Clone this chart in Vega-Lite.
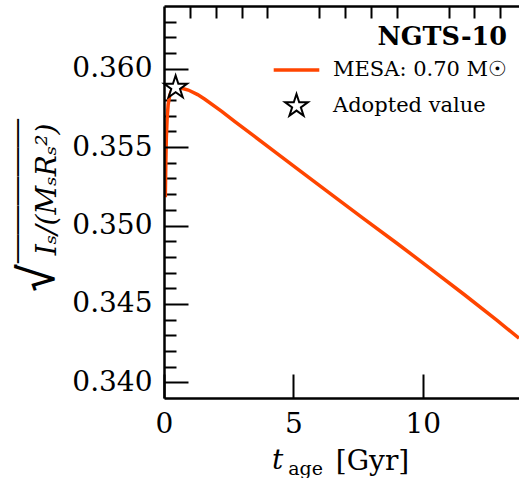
{
  "$schema": "https://vega.github.io/schema/vega-lite/v6.json",
  "width": 355,
  "height": 392,
  "autosize": {"type": "none"},
  "padding": {"left": 164, "top": 6, "right": 0, "bottom": 80},
  "background": "white",
  "config": {
    "view": {"stroke": null},
    "font": "DejaVu Serif",
    "axis": {"grid": false, "labelFont": "DejaVu Serif", "titleFont": "DejaVu Serif", "labelColor": "black", "titleColor": "black", "tickColor": "black", "domainColor": "black", "titleFontWeight": "normal"}
  },
  "datasets": {
    "mesa": [
      {"t": 0.05, "v": 0.3518, "series": "MESA: 0.70 M☉"},
      {"t": 0.07, "v": 0.3540, "series": "MESA: 0.70 M☉"},
      {"t": 0.09, "v": 0.3556, "series": "MESA: 0.70 M☉"},
      {"t": 0.12, "v": 0.3568, "series": "MESA: 0.70 M☉"},
      {"t": 0.16, "v": 0.3577, "series": "MESA: 0.70 M☉"},
      {"t": 0.22, "v": 0.3583, "series": "MESA: 0.70 M☉"},
      {"t": 0.30, "v": 0.35865, "series": "MESA: 0.70 M☉"},
      {"t": 0.40, "v": 0.3588, "series": "MESA: 0.70 M☉"},
      {"t": 0.50, "v": 0.35882, "series": "MESA: 0.70 M☉"},
      {"t": 0.65, "v": 0.35877, "series": "MESA: 0.70 M☉"},
      {"t": 0.94, "v": 0.35864, "series": "MESA: 0.70 M☉"},
      {"t": 1.30, "v": 0.35835, "series": "MESA: 0.70 M☉"},
      {"t": 1.58, "v": 0.35805, "series": "MESA: 0.70 M☉"},
      {"t": 2.23, "v": 0.35728, "series": "MESA: 0.70 M☉"},
      {"t": 2.74, "v": 0.35662, "series": "MESA: 0.70 M☉"},
      {"t": 3.50, "v": 0.35568, "series": "MESA: 0.70 M☉"},
      {"t": 4.30, "v": 0.35468, "series": "MESA: 0.70 M☉"},
      {"t": 5.13, "v": 0.35365, "series": "MESA: 0.70 M☉"},
      {"t": 6.40, "v": 0.35207, "series": "MESA: 0.70 M☉"},
      {"t": 7.70, "v": 0.35046, "series": "MESA: 0.70 M☉"},
      {"t": 9.00, "v": 0.34887, "series": "MESA: 0.70 M☉"},
      {"t": 10.28, "v": 0.34727, "series": "MESA: 0.70 M☉"},
      {"t": 11.60, "v": 0.34560, "series": "MESA: 0.70 M☉"},
      {"t": 12.86, "v": 0.34397, "series": "MESA: 0.70 M☉"},
      {"t": 13.72, "v": 0.34281, "series": "MESA: 0.70 M☉"}
    ],
    "adopted": [
      {"t": 0.45, "v": 0.3588, "series": "Adopted value"}
    ]
  },
  "resolve": {"axis": {"x": "independent", "y": "independent"}},
  "layer": [
    {
      "data": {"name": "mesa"},
      "mark": {"type": "line", "strokeWidth": 3.5, "clip": true},
      "encoding": {
        "x": {
          "field": "t", "type": "quantitative",
          "scale": {"domain": [0, 13.72], "nice": false, "zero": false},
          "axis": {
            "orient": "bottom", "values": [0, 5, 10], "format": "d",
            "tickSize": -24, "tickWidth": 2, "domainWidth": 2.5, "zindex": 1,
            "labelFontSize": 28, "labelPadding": 36, "labelFlush": false, "labelOverlap": false,
            "title": "t", "titleFontSize": 28, "titleFontStyle": "italic",
            "titleX": 113, "titleY": 70, "titleAlign": "center", "titleBaseline": "alphabetic"
          }
        },
        "y": {
          "field": "v", "type": "quantitative",
          "scale": {"domain": [0.339, 0.364], "nice": false, "zero": false},
          "axis": {
            "orient": "left", "values": [0.34, 0.345, 0.35, 0.355, 0.36], "format": ".3f",
            "tickSize": -24, "tickWidth": 2, "domainWidth": 2.5, "zindex": 1,
            "labelFontSize": 28, "labelPadding": 36, "labelFlush": false, "labelOverlap": false,
            "title": "Iₛ/(MₛRₛ²)", "titleFontSize": 28, "titleFontStyle": "italic",
            "titleX": -109, "titleY": 183, "titleAngle": -90, "titleAlign": "center", "titleBaseline": "alphabetic"
          }
        },
        "color": {
          "field": "series", "type": "nominal",
          "scale": {"domain": ["MESA: 0.70 M☉", "Adopted value"], "range": ["#ff4500", "black"]},
          "legend": {
            "orient": "none", "legendX": 122, "legendY": 19,
            "title": "NGTS-10", "titleFontSize": 25.5, "titleFontWeight": "bold", "titleFont": "DejaVu Serif",
            "titleColor": "black", "titleAnchor": "end", "titlePadding": 9,
            "labelFontSize": 21, "labelFont": "DejaVu Serif", "labelColor": "black", "labelOffset": 26, "labelLimit": 400,
            "symbolSize": 576, "rowPadding": 9, "padding": 0,
            "encode": {"symbols": {"update": {"strokeWidth": {"signal": "datum.value === 'Adopted value' ? 2 : 3.5"}}}}
          }
        }
      }
    },
    {
      "data": {"name": "adopted"},
      "mark": {"type": "point", "shape": "M0,-1L0.2245,-0.309L0.951,-0.309L0.363,0.118L0.588,0.809L0,0.382L-0.588,0.809L-0.363,0.118L-0.951,-0.309L-0.2245,-0.309Z", "filled": true, "fill": "white", "opacity": 1, "size": 576, "strokeWidth": 0},
      "encoding": {
        "x": {
          "field": "t", "type": "quantitative",
          "axis": {
            "orient": "top", "ticks": false, "labels": false, "domain": true, "domainWidth": 2.5,
            "title": "[Gyr]", "titleFontSize": 28,
            "titleX": 208, "titleY": 463, "titleAlign": "center", "titleBaseline": "alphabetic"
          }
        },
        "y": {
          "field": "v", "type": "quantitative",
          "axis": {
            "orient": "left",
            "values": [0.341, 0.342, 0.343, 0.344, 0.346, 0.347, 0.348, 0.349, 0.351, 0.352, 0.353, 0.354, 0.356, 0.357, 0.358, 0.359, 0.361, 0.362, 0.363],
            "tickCount": 100, "ticks": false, "labels": false, "domain": false,
            "grid": true, "gridColor": "black", "gridWidth": 2, "gridOpacity": 1, "gridDash": [12, 1000],
            "title": "√‾‾‾‾‾", "titleFont": "DejaVu Sans Mono", "titleFontSize": 48, "titleFontStyle": "normal",
            "titleX": -111, "titleY": 199, "titleAngle": -90, "titleAlign": "center", "titleBaseline": "alphabetic"
          }
        }
      }
    },
    {
      "data": {"name": "adopted"},
      "mark": {"type": "point", "filled": false, "opacity": 1, "size": 576, "strokeWidth": 2},
      "encoding": {
        "x": {
          "field": "t", "type": "quantitative",
          "axis": {
            "orient": "bottom",
            "values": [1, 2, 3, 4, 6, 7, 8, 9, 11, 12, 13],
            "tickCount": 100, "ticks": false, "labels": false, "domain": false,
            "grid": true, "gridColor": "black", "gridWidth": 2, "gridOpacity": 1, "gridDash": [12, 1000],
            "title": "age", "titleFontSize": 19,
            "titleX": 141, "titleY": 76, "titleAlign": "center", "titleBaseline": "alphabetic"
          }
        },
        "y": {"field": "v", "type": "quantitative", "axis": null},
        "color": {"field": "series", "type": "nominal"},
        "shape": {
          "field": "series", "type": "nominal",
          "scale": {"domain": ["MESA: 0.70 M☉", "Adopted value"], "range": ["M-1.9,0L1.9,0", "M0,-1L0.2245,-0.309L0.951,-0.309L0.363,0.118L0.588,0.809L0,0.382L-0.588,0.809L-0.363,0.118L-0.951,-0.309L-0.2245,-0.309Z"]}
        }
      }
    }
  ]
}
